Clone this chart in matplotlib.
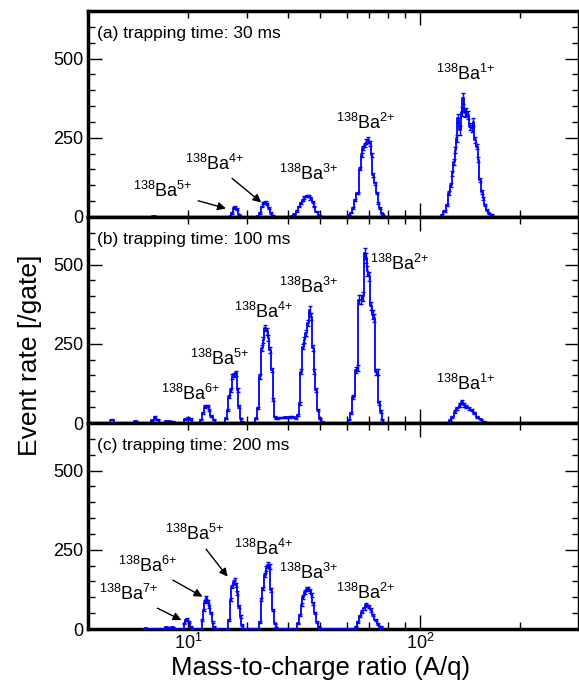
import matplotlib
matplotlib.use("Agg")
import matplotlib.pyplot as plt
from matplotlib.ticker import FixedLocator, FixedFormatter, MultipleLocator, NullFormatter

plt.rcParams["font.family"] = ["Liberation Sans", "DejaVu Sans"]
plt.rcParams["mathtext.fontset"] = "custom"
plt.rcParams["mathtext.rm"] = "Liberation Sans"
plt.rcParams["mathtext.default"] = "regular"

# --- spectra: A/q bin centre, event rate, error ---
# (a) trapping time 30 ms
X_30 = [15.4, 15.8, 16.2,
        26.5, 26.8, 27.1, 27.4, 27.7, 28.0, 28.4, 28.7, 29.0,
        32.1, 32.5, 32.9, 33.3, 33.7, 34.2, 34.6, 35.1, 35.6, 36.1, 36.6,
        40.6, 41.2, 41.8, 42.4, 43.0, 43.6, 44.2, 44.8, 45.5, 46.1, 46.7, 47.4, 48.0, 48.7, 49.4, 50.1, 50.8,
        60.3, 61.1, 61.9, 62.8, 63.7, 64.7, 65.6, 66.5, 67.3, 68.1, 68.8, 69.7, 70.5, 71.3, 72.1, 73.0,
        73.8, 74.8, 75.7, 76.6, 77.4, 78.3,
        114.5, 116.0, 118.7, 120.5, 122.0, 123.4, 124.8, 126.2, 127.1, 128.6, 129.8, 131.6, 133.1, 134.3,
        135.9, 137.4, 139.1, 140.7, 142.7, 144.3, 146.0, 147.7, 149.4, 151.1, 152.9, 154.6, 156.4, 158.3,
        160.8, 163.8, 166.0]
Y_30 = [0, 3, 0,
        0, 3, 13, 27, 32, 24, 9, 2, 0,
        0, 3, 13, 33, 45, 47, 41, 27, 13, 4, 0,
        0, 3, 9, 19, 33, 45, 54, 62, 66, 66, 59, 48, 33, 17, 6, 1, 0,
        0, 6, 14, 27, 54, 75, 153, 195, 217, 227, 237, 243, 232, 195, 132, 106,
        75, 43, 27, 12, 6, 0,
        0, 6, 20, 38, 75, 101, 138, 174, 211, 248, 311, 274, 332, 374,
        327, 332, 322, 285, 280, 300, 243, 222, 180, 117, 80, 59, 38, 22,
        12, 6, 0]
E_30 = [0, 1, 0,
        0, 1, 2, 3, 3, 3, 2, 1, 0,
        0, 1, 2, 3, 3, 3, 3, 3, 2, 1, 0,
        0, 1, 2, 2, 3, 3, 4, 4, 4, 4, 4, 3, 3, 2, 1, 1, 0,
        0, 1, 2, 3, 4, 4, 6, 7, 7, 7, 8, 8, 7, 7, 6, 5,
        4, 3, 3, 2, 1, 0,
        0, 2, 3, 4, 6, 7, 8, 9, 10, 11, 14, 14, 14, 16,
        13, 12, 12, 11, 11, 12, 10, 9, 8, 7, 6, 5, 4, 3,
        2, 2, 0]

# (b) trapping time 100 ms
X_100 = [11.5, 11.8, 12.1, 13.6, 13.9, 14.2,
         15.3, 15.6, 15.9, 16.2, 16.5, 16.9, 17.2, 17.6, 18.0, 18.3,
         19.3, 19.6, 20.0, 20.4, 20.7,
         21.5, 21.8, 22.2, 22.5, 22.9, 23.2, 23.5, 23.9, 24.2,
         25.7, 26.0, 26.3, 26.6, 26.9, 27.2, 27.5, 27.8, 28.2, 28.5, 28.8, 29.1, 29.4,
         31.6, 32.0, 32.5, 32.9, 33.3, 33.7, 34.1, 34.5, 34.9, 35.3, 35.7, 36.1, 36.5,
         36.9, 37.4, 38.0, 38.6, 39.2, 39.8, 40.4, 41.0, 41.6, 42.2,
         42.8, 43.3, 43.8, 44.4, 44.8, 45.4, 45.9, 46.4, 47.0, 47.5, 48.0, 48.6, 49.2, 49.9, 50.7, 51.5,
         60.3, 61.1, 62.0, 62.9, 64.0, 64.7, 65.5, 66.3, 67.1, 68.0, 68.7, 69.3, 70.2, 71.0, 71.8,
         72.6, 73.4, 74.3, 75.1, 76.0, 76.9, 77.8,
         119.0, 120.5, 122.6, 124.8, 127.1, 129.2, 131.3, 133.1, 135.3, 137.4, 140.0, 142.7,
         145.0, 148.3, 151.8, 155.3, 158.9, 161.0]
Y_100 = [0, 10, 0, 0, 6, 0,
         0, 8, 20, 10, 0, 0, 5, 6, 4, 0,
         0, 12, 16, 13, 0,
         0, 10, 31, 52, 54, 41, 22, 10, 0,
         0, 15, 41, 83, 104, 147, 152, 157, 104, 52, 15, 4, 0,
         0, 15, 47, 147, 236, 263, 300, 289, 268, 231, 168, 73, 20,
         15, 16, 17, 17, 18, 18, 19, 20, 18, 16,
         25, 62, 162, 241, 263, 284, 316, 358, 336, 236, 162, 104, 41, 15, 4, 0,
         0, 10, 31, 83, 168, 173, 389, 389, 400, 535, 520, 479, 463, 368, 342,
         331, 162, 160, 62, 36, 10, 0,
         0, 1, 9, 20, 36, 46, 57, 67, 57, 52, 46, 41,
         31, 20, 12, 4, 1, 0]
E_100 = [0, 2, 0, 0, 1, 0,
         0, 2, 3, 2, 0, 0, 1, 1, 1, 0,
         0, 2, 2, 2, 0,
         0, 2, 3, 4, 4, 3, 3, 2, 0,
         0, 2, 3, 5, 6, 7, 7, 8, 6, 4, 2, 1, 0,
         0, 2, 4, 7, 9, 9, 10, 10, 9, 9, 7, 5, 2,
         2, 2, 2, 2, 2, 2, 2, 2, 2, 2,
         3, 4, 7, 9, 9, 9, 10, 11, 10, 9, 7, 6, 4, 2, 1, 0,
         0, 2, 4, 6, 9, 9, 14, 14, 14, 16, 16, 15, 15, 13, 13,
         13, 9, 9, 6, 4, 2, 0,
         0, 1, 2, 3, 4, 4, 5, 5, 5, 5, 4, 4,
         4, 3, 2, 1, 1, 0]

# (c) trapping time 200 ms
X_200 = [14.7, 14.9, 15.1, 16.9, 17.2, 17.6, 18.0, 18.3,
         19.3, 19.5, 19.7, 19.9, 20.2, 20.4, 20.6,
         21.9, 22.1, 22.3, 22.5, 22.7, 23.0, 23.2, 23.4, 23.7, 24.0, 24.2,
         26.3, 26.6, 26.9, 27.1, 27.4, 27.6, 27.9, 28.1, 28.5, 28.8, 29.1, 29.4,
         32.5, 32.9, 33.2, 33.6, 34.0, 34.4, 34.8, 35.2, 35.6, 36.0, 36.4, 36.9, 37.3,
         42.4, 42.9, 43.4, 43.9, 44.4, 45.0, 45.5, 46.0, 46.6, 47.1, 47.6, 48.2, 48.7, 49.4, 50.0,
         63.2, 63.8, 64.9, 65.8, 66.8, 67.9, 68.8, 70.0, 71.1, 72.1, 73.3, 74.5, 75.9, 76.8]
Y_200 = [0, 2, 0, 0, 5, 4, 5, 0,
         0, 18, 28, 31, 23, 7, 0,
         0, 28, 60, 86, 100, 86, 70, 50, 23, 7, 0,
         0, 28, 92, 134, 149, 153, 139, 113, 70, 39, 13, 0,
         0, 23, 92, 128, 170, 192, 202, 197, 123, 60, 18, 5, 0,
         0, 18, 44, 76, 100, 118, 125, 128, 121, 107, 81, 50, 23, 7, 0,
         0, 7, 23, 41, 55, 65, 76, 70, 60, 44, 28, 16, 7, 0]
E_200 = [0, 1, 0, 0, 1, 1, 1, 0,
         0, 2, 3, 3, 3, 2, 0,
         0, 3, 4, 5, 5, 5, 5, 4, 3, 2, 0,
         0, 3, 5, 6, 7, 7, 7, 6, 5, 4, 2, 0,
         0, 3, 5, 6, 7, 8, 8, 8, 6, 4, 2, 1, 0,
         0, 2, 4, 5, 6, 6, 6, 6, 6, 6, 5, 4, 3, 2, 0,
         0, 2, 3, 4, 4, 5, 5, 5, 5, 4, 3, 2, 2, 0]

TITLES = ["(a) trapping time: 30 ms", "(b) trapping time: 100 ms", "(c) trapping time: 200 ms"]

# peak labels: (charge, x, y) and arrows: (charge, x_text, y_text, x_tip, y_tip)
LABELS_30 = [("1+", 137, 450), ("2+", 68.6, 296), ("3+", 46.1, 135)]
ARROWS_30 = [("4+", 24.0, 168, 33.2, 46), ("5+", 16.8, 82, 26.0, 27)]
LABELS_100 = [("2+", 86.8, 502), ("3+", 46.1, 428), ("4+", 33.9, 349), ("5+", 24.9, 202),
              ("6+", 20.4, 93), ("1+", 137.4, 123)]
ARROWS_100 = []
LABELS_200 = [("2+", 68.6, 115), ("3+", 46.1, 178), ("4+", 33.9, 252)]
ARROWS_200 = [("5+", 20.9, 299, 26.3, 165), ("6+", 15.1, 199, 22.1, 102), ("7+", 13.3, 110, 19.1, 28)]

X_MINOR = [20, 30, 40, 50, 60, 70, 80, 90, 200, 300]


def ion(q):
    # "{+}" keeps mathtext from spacing the plus sign as a binary operator
    return r"$^{138}$Ba$^{" + q[:-1] + "{+}}$"


fig = plt.figure(figsize=(5.79, 6.81), dpi=100)
W, H = 579.0, 681.0
left, bottom, ph = 88 / W, 52 / H, 206 / H

panels = [(X_30, Y_30, E_30, LABELS_30, ARROWS_30),
          (X_100, Y_100, E_100, LABELS_100, ARROWS_100),
          (X_200, Y_200, E_200, LABELS_200, ARROWS_200)]

for i, (xs, ys, es, labels, arrows) in enumerate(panels):
    assert len(xs) == len(ys) == len(es), (i, len(xs), len(ys), len(es))
    ax = fig.add_axes([left, bottom + (2 - i) * ph, 1.0 - left, ph])
    ax.step(xs, ys, where="mid", color="blue", lw=1.3, zorder=3)
    ax.errorbar(xs, ys, yerr=es, fmt="none", ecolor="blue", elinewidth=1.0,
                capsize=1.5, capthick=1.0, zorder=3)

    ax.set_xscale("log")
    ax.set_xlim(10, 300)
    ax.set_ylim(0, 650)
    ax.set_yticks([0, 250, 500])
    ax.yaxis.set_minor_locator(MultipleLocator(50))
    ax.xaxis.set_major_locator(FixedLocator([100]))
    ax.xaxis.set_minor_locator(FixedLocator(X_MINOR))
    if i == 2:
        ax.xaxis.set_major_formatter(FixedFormatter([r"$10^2$"]))
        ax.xaxis.set_minor_formatter(FixedFormatter([r"$10^1$"] + [""] * (len(X_MINOR) - 1)))
    else:
        ax.xaxis.set_major_formatter(NullFormatter())
        ax.xaxis.set_minor_formatter(NullFormatter())

    ax.tick_params(which="both", direction="in", top=True, right=True, labelsize=13, width=1.0)
    ax.tick_params(which="major", length=10)
    ax.tick_params(which="minor", length=5)
    ax.tick_params(axis="x", which="both", pad=3)
    for sp in ax.spines.values():
        sp.set_linewidth(2.5)

    ax.text(0.018, 0.89, TITLES[i], transform=ax.transAxes, fontsize=12.5, ha="left", va="center")

    for q, x, y in labels:
        ax.text(x, y, ion(q), fontsize=13, ha="center", va="center")
    for q, xt, yt, xa, ya in arrows:
        ax.annotate(ion(q), xy=(xa, ya), xytext=(xt, yt), fontsize=13, ha="center", va="center",
                    arrowprops=dict(arrowstyle="-|>", color="black", lw=1.0, mutation_scale=12,
                                    shrinkA=2, shrinkB=0))

fig.text(0.052, 0.478, "Event rate [/gate]", rotation=90, fontsize=19, ha="center", va="center")
fig.text(0.554, 0.019, "Mass-to-charge ratio (A/q)", fontsize=18.5, ha="center", va="center")

fig.savefig("out.png", dpi=100)
